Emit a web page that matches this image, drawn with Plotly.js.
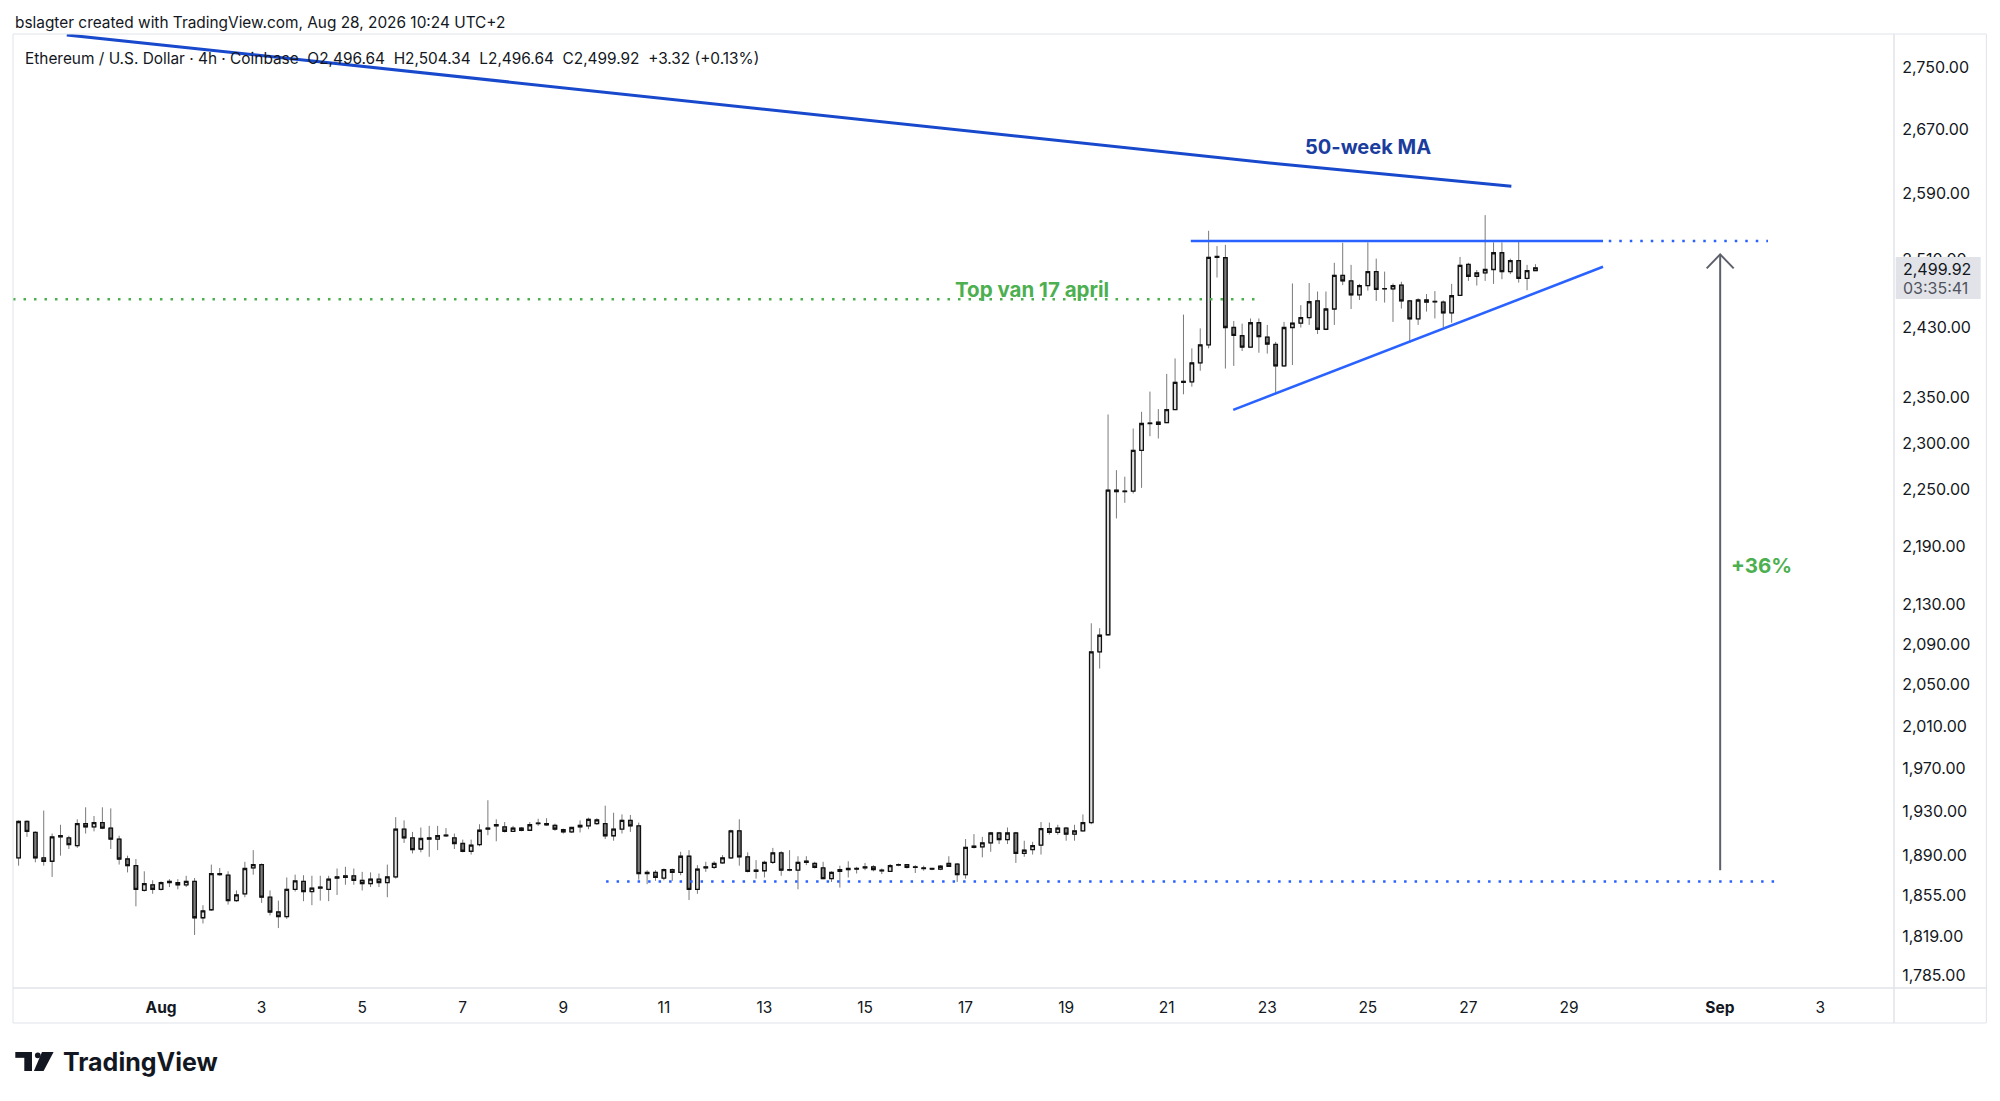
<!DOCTYPE html>
<html><head><meta charset="utf-8">
<script src="https://cdn.plot.ly/plotly-3.0.1.min.js"></script>
<style>html,body{margin:0;padding:0;background:#fff;}#chart{width:2000px;height:1101px;}</style>
</head><body><div id="chart"></div>
<script>
// ---------- data (4h ETH/USD candles) ----------
const firstBar = Date.UTC(2026, 6, 29, 4, 0);   // Jul 29 04:00
const barHours = 4;
const opens = [1888,1921,1911,1888,1885,1907,1906,1899,1919,1916,1920,1915,1905,1887,1881,1859,1864,1860,1866,1866,1864,1867,1835,1842,1874,1872.5,1850,1856,1879,1882,1853,1840,1836,1860,1867,1858,1861,1860,1870,1872,1872,1868,1865,1869,1866,1871,1914,1906,1896,1905,1905,1908,1906,1901,1894,1900,1914,1917,1916,1912,1913,1913,1919,1919,1917.5,1913.5,1911.5,1916,1917,1919,1919,1908,1914,1922,1917,1875,1875,1870,1877.5,1875,1889.5,1860,1879,1879.5,1883.5,1888,1912.5,1889,1876,1876.5,1884,1892.5,1877,1877,1884,1883,1879,1869.5,1877.5,1877.5,1878,1879,1880,1877,1876,1881.5,1882,1880,1879,1878.5,1878,1883,1882.5,1873,1897.5,1898,1901.5,1910.5,1904.5,1910.5,1892,1895.5,1899.5,1914.5,1911,1915,1909.5,1912.5,1920,2082.5,2099.5,2249,2247.5,2248,2292,2321.5,2323,2322.5,2337,2367.5,2368,2389.5,2410,2512.5,2512,2430,2420.5,2407.5,2435.5,2419,2410.5,2386,2430,2435,2441.5,2461,2428,2451.5,2491,2484.5,2468,2479,2495.5,2475,2475,2479.5,2461,2440,2459.5,2460.5,2459.5,2447,2467.5,2504,2490,2494,2498,2518,2495.5,2508.5,2487.5,2496.64];
const highs = [1922,1922,1912,1931,1910,1918,1908,1923,1934,1926,1934,1933,1908,1890,1887,1876,1868,1867,1869,1869,1872,1870,1846,1882,1879,1876,1859,1884.5,1895,1883,1859,1850,1870.5,1873,1872.5,1872,1872,1872,1878.5,1880,1878.5,1875.5,1875,1874,1882,1925,1922,1911.5,1915.5,1917,1917,1915,1910,1904.5,1904.5,1918.5,1940.5,1923,1920.5,1917,1916,1920.5,1923.5,1924,1919,1914.5,1916,1922,1924.5,1924,1935.5,1929,1927.5,1927,1920,1877,1877,1878.5,1878.5,1893.5,1895,1881.5,1884.5,1885,1890.5,1913.5,1923,1893,1886,1885.5,1897,1894,1895,1889.5,1889.5,1884.5,1884.5,1876,1881,1885,1880,1883.5,1881.5,1878.5,1882.5,1883,1882.5,1881.5,1881,1879,1881.5,1889.5,1883.5,1905,1909.5,1907,1911.5,1911.5,1915.5,1911.5,1903.5,1902.5,1920.5,1920,1918,1916,1918,1927.5,2111,2106,2331.5,2270.5,2263.5,2316,2334.5,2357,2337.5,2377,2394.5,2445,2406,2429,2544.5,2526,2527.5,2437.5,2434.5,2440.5,2440.5,2433,2413.5,2436.5,2481.5,2456,2482,2472,2472,2506,2530,2503.5,2481,2530.5,2511,2495.5,2481.5,2483.5,2462,2464,2469,2472.5,2461.5,2481,2513,2506,2497.5,2563.5,2530.5,2530.5,2511,2531,2503.5,2504.34];
const lows = [1881,1907,1884,1881,1871,1890,1896,1897,1910,1912,1914,1896,1882,1875,1845,1858,1856,1859,1862,1860,1862,1820,1830,1841,1872,1846.5,1849,1853,1873,1848,1837,1826,1834,1858,1849.5,1846,1850,1849.5,1855,1864,1864,1859,1862,1862,1853,1869.5,1901.5,1892,1893,1889,1895,1907,1896,1893,1891,1898.5,1908.5,1903,1911,1911.5,1912,1912.5,1917,1917,1912.5,1910,1910.5,1911,1914,1918,1905,1903.5,1910,1911.5,1868.5,1864.5,1867.5,1868,1867.5,1872.5,1850.5,1856,1875.5,1878,1882.5,1887,1881,1875,1869.5,1870.5,1882.5,1872,1876,1860,1881.5,1878.5,1869,1866.5,1861.5,1870.5,1874,1877,1876,1873.5,1875.5,1880.5,1878.5,1874.5,1876.5,1877,1877,1880,1866.5,1869.5,1896.5,1888.5,1893.5,1900.5,1900.5,1883.5,1889,1891,1891,1909,1909,1903.5,1903.5,1912,1918.5,2066,2099,2219,2235.5,2245.5,2251.5,2307.5,2305,2322,2336.5,2354,2362.5,2380.5,2406,2488.5,2383,2386,2403,2407,2401,2400,2354,2385,2387,2430,2433,2422.5,2427,2433,2479.5,2451.5,2462,2473,2461,2459,2436.5,2452,2412.5,2433,2448.5,2440.5,2430,2435.5,2467,2484.5,2479,2484.5,2481,2486.5,2492.5,2482.5,2473.5,2496.64];
const closes = [1921,1912,1888,1885,1907,1908,1900,1919,1916,1920,1915,1905,1887,1881,1860,1865,1860,1866,1867,1864,1867,1835,1841,1874,1873,1850,1855,1878.5,1882,1853,1840,1836,1860,1867.5,1858,1861,1862,1869,1871,1870.5,1868,1865,1869,1866,1871,1914,1906,1895.5,1905.5,1906,1908,1908.5,1901,1894,1899.5,1913,1915,1918,1912,1915,1915,1918,1919.5,1918,1914,1911.5,1915.5,1917.5,1923,1922.5,1908,1914,1922,1917,1874,1874,1870.5,1877.5,1875,1889.5,1860,1878,1880,1883,1888,1912.5,1889,1876,1877,1884,1892.5,1877,1877.5,1884,1885,1879.5,1869.5,1875,1876,1878.5,1878.5,1880,1877.5,1876.5,1881,1882,1879.5,1879.5,1878.5,1878,1880.5,1880.5,1873,1897.5,1898.5,1901.5,1910.5,1904.5,1910.5,1892,1895,1899,1914.5,1911,1915,1909.5,1912.5,1920,2082.5,2099,2249,2247.5,2248,2292,2321.5,2322,2320.5,2337,2367.5,2368.5,2389.5,2410,2512.5,2513.5,2430,2421,2407.5,2435.5,2419.5,2411,2386,2430,2435,2441.5,2460,2428,2451.5,2491,2484.5,2468,2479,2495.5,2474.5,2475.5,2479,2461,2440,2462,2462,2460,2447,2467,2503,2490,2494,2498,2518,2495.5,2508.5,2487.5,2496.64,2499.92];

// 50-week moving average (read at a few points along the line)
const maTimes  = ['2026-07-30 03:00','2026-08-08 03:00','2026-08-23 06:00','2026-08-27 20:30'];
const maValues = [2793, 2729.5, 2626.5, 2599];

// drawn levels / trend lines (price levels)
const resistanceLevel = 2532;
const supportLevel = 1867;
const aprilTopLevel = 2463;
const triangleLow = [2336.7, 2501.3];
const moveArrow = [1877, 2516];

// axis ticks
const priceTicks = [1785,1819,1855,1890,1930,1970,2010,2050,2090,2130,2190,2250,2300,2350,2430,2510,2590,2670,2750];
const dateTicks = ['2026-08-01','2026-08-03','2026-08-05','2026-08-07','2026-08-09','2026-08-11','2026-08-13','2026-08-15','2026-08-17','2026-08-19','2026-08-21','2026-08-23','2026-08-25','2026-08-27','2026-08-29','2026-09-01','2026-09-03'];
const dateTickText = ['<b>Aug</b>','3','5','7','9','11','13','15','17','19','21','23','25','27','29','<b>Sep</b>','3'];

// ---------- build ----------
function fmt(ms){const d=new Date(ms);const p=n=>String(n).padStart(2,'0');
  return d.getUTCFullYear()+'-'+p(d.getUTCMonth()+1)+'-'+p(d.getUTCDate())+' '+p(d.getUTCHours())+':'+p(d.getUTCMinutes());}
const times = opens.map((_,i)=>fmt(firstBar + i*barHours*3600*1000));
const bodyHigh = opens.map((o,i)=>Math.max(o,closes[i]));
const bodyLow  = opens.map((o,i)=>Math.min(o,closes[i]));

// pixel -> paper helpers for page furniture
const PL=12.7, PR=1894.3, PT=34, PB=987.7;
const px = x => (x-PL)/(PR-PL);
const py = y => (PB-y)/(PB-PT);

const FONT = 'Inter, "Noto Sans", sans-serif';
const ink = '#131722';
const upFill = '#dedede', dnFill = '#7b7b7b';

const traces = [
  {type:'candlestick', x:times, open:opens, high:highs, low:lows, close:closes,
   increasing:{line:{color:'#7a7a7a',width:1}, fillcolor:upFill},
   decreasing:{line:{color:'#7a7a7a',width:1}, fillcolor:dnFill},
   whiskerwidth:0, hoverinfo:'skip', showlegend:false},
  {type:'candlestick', x:times, open:opens, high:bodyHigh, low:bodyLow, close:closes,
   increasing:{line:{color:'#111111',width:1.3}, fillcolor:upFill},
   decreasing:{line:{color:'#111111',width:1.3}, fillcolor:dnFill},
   whiskerwidth:0, hoverinfo:'skip', showlegend:false},
  {type:'scatter', mode:'lines', x:maTimes, y:maValues,
   line:{color:'#1848cc', width:3}, hoverinfo:'skip', showlegend:false}
];

const blue = '#2962ff', green = '#4caf50';
const shapes = [
  // resistance (solid + dotted extension)
  {type:'line', xref:'x', yref:'y', x0:'2026-08-21 11:30', x1:'2026-08-29 16:15', y0:resistanceLevel, y1:resistanceLevel, line:{color:blue,width:2.5}},
  {type:'line', xref:'x', yref:'y', x0:'2026-08-29 19:00', x1:'2026-09-01 23:00', y0:resistanceLevel, y1:resistanceLevel, line:{color:blue,width:2.5,dash:'2.5px,8px'}},
  // support dotted
  {type:'line', xref:'x', yref:'y', x0:'2026-08-09 20:25', x1:'2026-09-02 02:25', y0:supportLevel, y1:supportLevel, line:{color:blue,width:2.5,dash:'2.5px,8px'}},
  // april top dotted green
  {type:'line', xref:'x', yref:'y', x0:'2026-07-29 01:20', x1:'2026-08-22 18:05', y0:aprilTopLevel, y1:aprilTopLevel, line:{color:green,width:2.5,dash:'2.5px,8px'}},
  // rising triangle support
  {type:'line', xref:'x', yref:'y', x0:'2026-08-22 07:45', x1:'2026-08-29 16:15', y0:triangleLow[0], y1:triangleLow[1], line:{color:blue,width:2.5}},
  // move arrow
  {type:'line', xref:'x', yref:'y', x0:'2026-09-01 00:10', x1:'2026-09-01 00:10', y0:moveArrow[0], y1:moveArrow[1], line:{color:'#5d606b',width:2}},
  {type:'path', xref:'x', yref:'y', xsizemode:'pixel', ysizemode:'pixel', xanchor:'2026-09-01 00:10', yanchor:moveArrow[1],
   path:'M -13.5,-14 L 0,0 L 13.5,-14', line:{color:'#5d606b',width:2}},
  // frame
  {type:'rect', xref:'paper', yref:'paper', x0:px(12.7), x1:px(1986.7), y0:py(1022.7), y1:py(34), line:{color:'#e0e3eb',width:1}, layer:'above'},
  {type:'line', xref:'paper', yref:'paper', x0:px(1894.3), x1:px(1894.3), y0:py(1022.7), y1:py(34), line:{color:'#e0e3eb',width:1.5}, layer:'above'},
  {type:'line', xref:'paper', yref:'paper', x0:px(12.7), x1:px(1986.7), y0:py(987.7), y1:py(987.7), line:{color:'#e0e3eb',width:1.5}, layer:'above'},
  // last price box
  {type:'rect', xref:'paper', yref:'paper', x0:px(1896), x1:px(1981), y0:py(299), y1:py(257), fillcolor:'#e1e3e8', line:{width:0}, layer:'above'},
  // TradingView logo glyph
  {type:'rect', xref:'paper', yref:'paper', x0:px(15), x1:px(31.7), y0:py(1057.5), y1:py(1051.7), fillcolor:ink, line:{width:0}},
  {type:'rect', xref:'paper', yref:'paper', x0:px(24), x1:px(31.7), y0:py(1070.7), y1:py(1051.7), fillcolor:ink, line:{width:0}},
  {type:'circle', xref:'paper', yref:'paper', x0:px(34.6), x1:px(40.4), y0:py(1057.9), y1:py(1052.1), fillcolor:ink, line:{width:0}},
  {type:'path', xref:'paper', yref:'paper', fillcolor:ink, line:{width:0},
   path:`M ${px(41.7)},${py(1051.7)} L ${px(53.3)},${py(1051.7)} L ${px(43.3)},${py(1070.7)} L ${px(33.6)},${py(1070.7)} Z`}
];

const ann = (x,y,text,opt={}) => Object.assign({xref:'paper', yref:'paper', x:px(x), y:py(y), text, showarrow:false,
  xanchor:'left', yanchor:'middle', font:{family:FONT, size:15, color:ink}}, opt);

const annotations = [
  ann(13, 23, 'bslagter created with TradingView.com, Aug 28, 2026 10:24 UTC+2', {font:{family:FONT,size:15.4,color:ink}}),
  ann(23, 58, 'Ethereum / U.S. Dollar · 4h · Coinbase  O2,496.64  H2,504.34  L2,496.64  C2,499.92  +3.32 (+0.13%)', {font:{family:FONT,size:15.4,color:ink}}),
  ann(1368.3, 146.7, '<b>50-week MA</b>', {xanchor:'center', font:{family:FONT,size:20,color:'#1a3d9e'}}),
  ann(1032, 289.5, '<b>Top van 17 april</b>', {xanchor:'center', font:{family:FONT,size:20.5,color:green}}),
  ann(1762, 565, '<b>+36%</b>', {xanchor:'center', font:{family:FONT,size:20.5,color:green}}),
  ann(1901, 268.5, '2,499.92', {font:{family:FONT,size:16,color:ink}}),
  ann(1901, 288, '03:35:41', {font:{family:FONT,size:16,color:'#50535e'}}),
  ann(61, 1061.5, '<b>TradingView</b>', {font:{family:FONT,size:25,color:ink}})
];

const layout = {
  width:2000, height:1101,
  margin:{l:PL, r:2000-PR, t:PT, b:1101-PB, pad:0},
  paper_bgcolor:'#ffffff', plot_bgcolor:'#ffffff',
  showlegend:false, hovermode:false, dragmode:false,
  boxmode:'overlay', boxgap:0.4,
  font:{family:FONT, color:ink},
  xaxis:{type:'date', range:['2026-07-29 01:20','2026-09-04 11:08'], rangeslider:{visible:false},
    tickmode:'array', tickvals:dateTicks, ticktext:dateTickText,
    showgrid:false, zeroline:false, showline:false,
    ticks:'outside', ticklen:5, tickcolor:'rgba(0,0,0,0)',
    tickfont:{family:FONT, size:15.5, color:ink}, fixedrange:true},
  yaxis:{type:'log', side:'right', range:[3.249116, 3.446262],
    tickmode:'array', tickvals:priceTicks, tickformat:',.2f',
    showgrid:false, zeroline:false, showline:false,
    ticks:'outside', ticklen:4, tickcolor:'rgba(0,0,0,0)',
    tickfont:{family:FONT, size:16, color:ink}, fixedrange:true},
  shapes, annotations
};

Plotly.newPlot('chart', traces, layout, {staticPlot:true, displayModeBar:false});
</script>
</body></html>
